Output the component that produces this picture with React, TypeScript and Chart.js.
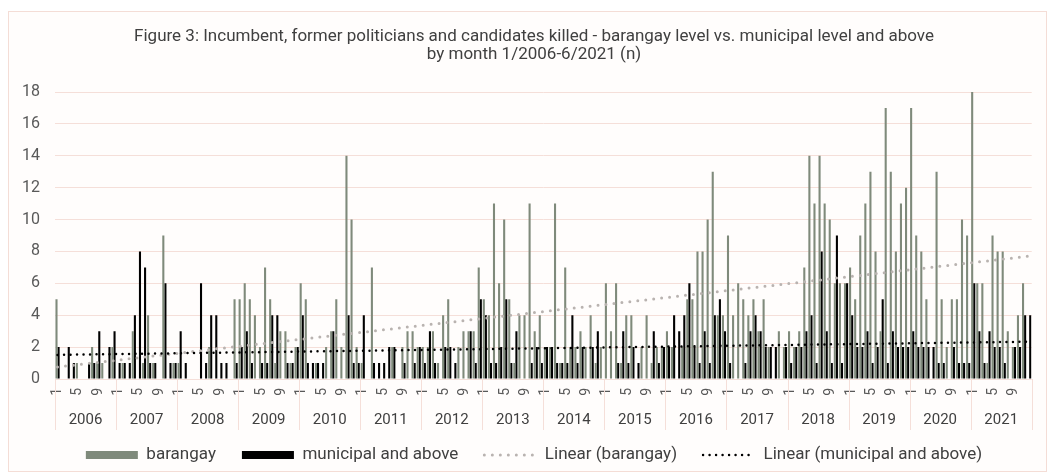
import React, { useEffect, useRef } from 'react';
import { Chart, registerables } from 'chart.js';

Chart.register(...registerables);

// ---------- text ----------
const titleLines = [
  'Figure 3: Incumbent, former politicians and candidates killed - barangay level vs. municipal level and above',
  'by month 1/2006-6/2021 (n)',
];
const years = ['2006', '2007', '2008', '2009', '2010', '2011', '2012', '2013', '2014', '2015', '2016', '2017', '2018', '2019', '2020', '2021'];
const monthsOfYear = ['1', '2', '3', '4', '5', '6', '7', '8', '9', '10', '11', '12'];
const labeledMonths = ['1', '5', '9'];
const seriesNames = ['barangay', 'municipal and above', 'Linear (barangay)', 'Linear (municipal and above)'];

// ---------- y axis ----------
const yMin = 0;
const yMax = 18;
const yStep = 2;

// ---------- data (one row per year, months 1..12) ----------
const barangay = [
  5, 0, 0, 0, 1, 0, 0, 2, 1, 1, 0, 2, // 2006
  0, 1, 0, 3, 0, 1, 4, 1, 0, 9, 0, 1, // 2007
  1, 0, 0, 0, 0, 0, 2, 0, 0, 0, 0, 5, // 2008
  5, 6, 5, 4, 2, 7, 5, 1, 3, 3, 1, 2, // 2009
  6, 5, 0, 1, 0, 2, 3, 5, 2, 14, 10, 2, // 2010
  1, 0, 7, 0, 0, 0, 2, 0, 2, 3, 3, 2, // 2011
  2, 2, 3, 1, 4, 5, 0, 2, 3, 3, 3, 7, // 2012
  5, 4, 11, 6, 10, 5, 1, 4, 4, 11, 3, 4, // 2013
  2, 2, 11, 1, 7, 2, 2, 3, 2, 4, 1, 2, // 2014
  6, 3, 6, 1, 4, 4, 0, 2, 4, 1, 2, 2, // 2015
  3, 2, 0, 2, 5, 5, 8, 8, 10, 13, 4, 4, // 2016
  9, 4, 6, 5, 4, 5, 3, 5, 2, 0, 3, 2, // 2017
  3, 2, 3, 7, 14, 11, 14, 11, 10, 6, 6, 6, // 2018
  7, 5, 9, 11, 13, 8, 3, 17, 13, 8, 11, 12, // 2019
  17, 9, 8, 5, 0, 13, 5, 2, 5, 5, 10, 9, // 2020
  18, 6, 6, 1, 9, 8, 8, 3, 2, 4, 6, 0, // 2021
];
const municipal = [
  2, 0, 2, 1, 0, 0, 1, 1, 3, 0, 2, 3, // 2006
  1, 1, 1, 4, 8, 7, 1, 1, 0, 6, 1, 1, // 2007
  3, 1, 0, 0, 6, 1, 4, 4, 1, 1, 0, 1, // 2008
  2, 3, 1, 0, 1, 1, 4, 4, 0, 1, 1, 2, // 2009
  4, 1, 1, 1, 1, 0, 3, 0, 0, 4, 1, 1, // 2010
  4, 0, 1, 1, 1, 2, 2, 0, 1, 0, 1, 2, // 2011
  1, 3, 1, 0, 2, 2, 1, 0, 0, 3, 1, 5, // 2012
  4, 1, 1, 2, 5, 1, 3, 0, 0, 1, 2, 1, // 2013
  2, 2, 1, 1, 1, 4, 1, 2, 0, 2, 3, 0, // 2014
  0, 0, 1, 3, 1, 2, 1, 0, 0, 3, 1, 2, // 2015
  2, 4, 3, 4, 6, 2, 1, 3, 1, 4, 5, 3, // 2016
  1, 0, 0, 1, 3, 4, 3, 2, 2, 2, 0, 2, // 2017
  1, 2, 2, 3, 4, 1, 8, 3, 1, 9, 1, 6, // 2018
  4, 2, 2, 3, 1, 2, 5, 1, 3, 2, 2, 2, // 2019
  3, 2, 2, 2, 2, 1, 1, 0, 2, 1, 1, 1, // 2020
  6, 3, 1, 3, 2, 2, 1, 0, 2, 2, 4, 4, // 2021
];

// ---------- styles ----------
const FONT = 'Roboto, "Noto Sans", Arial, sans-serif';
const TEXT_DARK = '#404040';
const TEXT_TICK = '#595959';
const GRID = '#f5dfd9';
const BAR_GRAY = '#7f8a7b';
const BAR_BLACK = '#000000';
const TREND_GRAY = '#b9b3b0';
const TREND_BLACK = '#000000';

function linearTrend(values: number[]): number[] {
  const n = values.length;
  let sx = 0, sy = 0, sxx = 0, sxy = 0;
  values.forEach((v, i) => {
    const x = i + 1;
    sx += x; sy += v; sxx += x * x; sxy += x * v;
  });
  const slope = (n * sxy - sx * sy) / (n * sxx - sx * sx);
  const intercept = (sy - slope * sx) / n;
  return values.map((_, i) => intercept + slope * (i + 1));
}

const monthLabels: string[] = [];
years.forEach(() => monthsOfYear.forEach((m) => monthLabels.push(m)));

const framePlugin = {
  id: 'framePlugin',
  beforeDraw(chart: any) {
    const { ctx, width, height } = chart;
    ctx.save();
    ctx.fillStyle = '#ffffff';
    ctx.fillRect(0, 0, width, height);
    ctx.fillStyle = '#fffdfc';
    ctx.fillRect(8, 11, width - 16, height - 14);
    ctx.strokeStyle = '#f4ddd6';
    ctx.lineWidth = 1;
    ctx.strokeRect(8.5, 11.5, width - 17, height - 15);
    ctx.restore();
  },
};

// year group labels + separators under the month axis (Excel multi-level category axis)
const yearAxisPlugin = {
  id: 'yearAxis',
  afterDraw(chart: any) {
    const xs = chart.scales.x;
    const { ctx, chartArea } = chart;
    const per = monthsOfYear.length;
    ctx.save();
    ctx.strokeStyle = GRID;
    ctx.lineWidth = 1;
    for (let k = 0; k <= years.length; k++) {
      let px: number;
      if (k === 0) px = chartArea.left;
      else if (k === years.length) px = chartArea.right;
      else px = (xs.getPixelForValue(k * per - 1) + xs.getPixelForValue(k * per)) / 2;
      const xx = Math.round(px) + 0.5;
      ctx.beginPath();
      ctx.moveTo(xx, chartArea.bottom);
      ctx.lineTo(xx, chartArea.bottom + 51);
      ctx.stroke();
    }
    ctx.fillStyle = TEXT_DARK;
    ctx.font = `15px ${FONT}`;
    ctx.textAlign = 'center';
    ctx.textBaseline = 'middle';
    years.forEach((y, k) => {
      const cx = (xs.getPixelForValue(k * per) + xs.getPixelForValue(k * per + per - 1)) / 2;
      ctx.fillText(y, cx, chartArea.bottom + 41);
    });
    ctx.restore();
  },
};

export default function App() {
  const canvasRef = useRef<HTMLCanvasElement | null>(null);

  useEffect(() => {
    if (!canvasRef.current) return;
    const chart = new Chart(canvasRef.current, {
      type: 'bar',
      data: {
        labels: monthLabels,
        datasets: [
          {
            type: 'bar',
            label: seriesNames[0],
            data: barangay,
            backgroundColor: BAR_GRAY,
            borderWidth: 0,
            categoryPercentage: 0.82,
            barPercentage: 1,
            order: 2,
          } as any,
          {
            type: 'bar',
            label: seriesNames[1],
            data: municipal,
            backgroundColor: BAR_BLACK,
            borderWidth: 0,
            categoryPercentage: 0.82,
            barPercentage: 1,
            order: 2,
          } as any,
          {
            type: 'line',
            label: seriesNames[2],
            data: linearTrend(barangay),
            borderColor: TREND_GRAY,
            backgroundColor: 'transparent',
            borderWidth: 3,
            borderDash: [0, 8],
            borderCapStyle: 'round',
            pointRadius: 0,
            fill: false,
            order: 1,
          } as any,
          {
            type: 'line',
            label: seriesNames[3],
            data: linearTrend(municipal),
            borderColor: TREND_BLACK,
            backgroundColor: 'transparent',
            borderWidth: 2.5,
            borderDash: [0, 6.5],
            borderCapStyle: 'round',
            pointRadius: 0,
            fill: false,
            order: 0,
          } as any,
        ],
      },
      options: {
        responsive: false,
        animation: false,
        layout: { padding: { left: 22, right: 9, top: 0, bottom: 1.5 } },
        plugins: {
          title: {
            display: true,
            text: titleLines,
            color: TEXT_DARK,
            font: { family: FONT, size: 17, weight: 'normal', lineHeight: 18 / 17 },
            padding: { top: 28, bottom: 28 },
          },
          legend: {
            position: 'bottom',
            labels: {
              usePointStyle: true,
              pointStyleWidth: 52,
              boxHeight: 8,
              padding: 26,
              color: TEXT_DARK,
              font: { family: FONT, size: 17 },
              generateLabels: (c: any) =>
                c.data.datasets.map((ds: any, i: number) => ({
                  text: ds.label,
                  fillStyle: ds.type === 'bar' ? ds.backgroundColor : 'rgba(0,0,0,0)',
                  strokeStyle: ds.type === 'bar' ? ds.backgroundColor : ds.borderColor,
                  lineWidth: ds.type === 'bar' ? 0 : ds.borderWidth,
                  lineDash: ds.type === 'bar' ? [] : ds.borderDash,
                  lineCap: ds.type === 'bar' ? 'butt' : 'round',
                  pointStyle: ds.type === 'bar' ? 'rect' : 'line',
                  fontColor: TEXT_DARK,
                  hidden: false,
                  datasetIndex: i,
                })),
            },
          },
          tooltip: { enabled: false },
        },
        scales: {
          x: {
            type: 'category',
            offset: true,
            grid: { display: false, drawTicks: false },
            border: { display: false },
            ticks: {
              autoSkip: false,
              maxRotation: 90,
              minRotation: 90,
              padding: 9,
              color: TEXT_TICK,
              font: { family: FONT, size: 14 },
              callback: (_v: any, i: number) => (labeledMonths.includes(monthLabels[i]) ? monthLabels[i] : ''),
            },
            afterFit: (s: any) => { s.height = 41.5; },
          },
          y: {
            min: yMin,
            max: yMax,
            ticks: { stepSize: yStep, padding: 15, color: TEXT_TICK, font: { family: FONT, size: 16 } },
            grid: { color: GRID, drawTicks: false },
            border: { display: false },
            afterFit: (s: any) => { s.width = 33; },
          },
        },
      } as any,
      plugins: [framePlugin, yearAxisPlugin],
    });
    return () => chart.destroy();
  }, []);

  return (
    <div style={{ position: 'absolute', left: 0, top: 0, width: 1055, height: 475 }}>
      <canvas ref={canvasRef} width={1055} height={475} />
    </div>
  );
}
